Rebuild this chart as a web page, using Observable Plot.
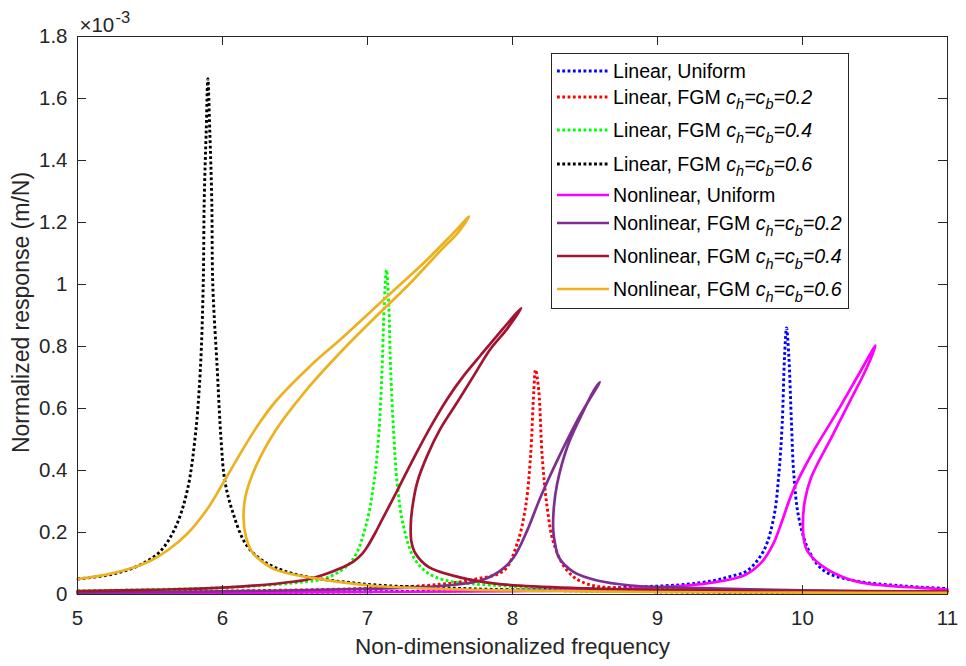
<!DOCTYPE html>
<html>
<head>
<meta charset="utf-8">
<script src="https://cdn.jsdelivr.net/npm/d3@7"></script>
<script src="https://cdn.jsdelivr.net/npm/@observablehq/plot@0.6"></script>
<style>
  html, body { margin: 0; padding: 0; background: #fff; overflow: hidden; }
  #wrap { position: relative; width: 966px; height: 666px; font-family: "Liberation Sans", Arial, Helvetica, sans-serif; }
  #legend { position: absolute; left: 551px; top: 53px; width: 298px; height: 256px; box-sizing: border-box;
            border: 1px solid #262626; background: #fff; }
  .row { position: absolute; left: 0; height: 0; white-space: nowrap; }
  .row svg { position: absolute; left: 4px; top: -6px; }
  .row span { position: absolute; left: 61px; top: -12px; line-height: 24px; font-size: 19.6px; color: #000; }
  .row sub { font-size: 14.5px; vertical-align: baseline; position: relative; top: 0.4em; }
</style>
</head>
<body>
<div id="wrap"></div>
<script>
// ---------- axis ticks ----------
const xTicks = [5, 6, 7, 8, 9, 10, 11];
const xTickLabels = ["5", "6", "7", "8", "9", "10", "11"];
const yTicks = [0, 0.2, 0.4, 0.6, 0.8, 1.0, 1.2, 1.4, 1.6, 1.8];
const yTickLabels = ["0", "0.2", "0.4", "0.6", "0.8", "1", "1.2", "1.4", "1.6", "1.8"];

// ---------- series (x: non-dimensional frequency, y: response ×10^-3 m/N) ----------
// Linear, Uniform
const linUniX = [5, 6, 7, 7.5, 8, 8.5, 8.9, 9.2, 9.388, 9.5, 9.619, 9.733, 9.802, 9.837, 9.86, 9.876, 9.89, 9.906, 9.924, 9.94, 9.974, 10.043, 10.147, 10.354, 10.653, 11];
const linUniY = [0.004, 0.006, 0.009, 0.011, 0.014, 0.019, 0.025, 0.033, 0.045, 0.058, 0.077, 0.142, 0.249, 0.389, 0.551, 0.766, 0.86, 0.766, 0.551, 0.389, 0.249, 0.142, 0.077, 0.045, 0.029, 0.019];
// Linear, FGM c=0.2
const linC2X = [5, 6, 7, 7.5, 7.75, 7.94, 8.032, 8.09, 8.124, 8.147, 8.159, 8.181, 8.205, 8.239, 8.285, 8.377, 8.515, 9, 10, 11];
const linC2Y = [0.007, 0.011, 0.02, 0.033, 0.05, 0.077, 0.164, 0.282, 0.443, 0.658, 0.725, 0.658, 0.443, 0.282, 0.164, 0.077, 0.034, 0.018, 0.011, 0.008];
// Linear, FGM c=0.4
const linC4X = [5, 6, 6.5, 6.731, 6.894, 6.986, 7.043, 7.078, 7.101, 7.115, 7.131, 7.147, 7.159, 7.181, 7.205, 7.25, 7.331, 7.469, 8, 9, 10, 11];
const linC4Y = [0.012, 0.022, 0.038, 0.056, 0.11, 0.217, 0.357, 0.518, 0.733, 0.93, 1.047, 0.93, 0.733, 0.518, 0.357, 0.217, 0.11, 0.056, 0.026, 0.015, 0.011, 0.008];
// Linear, FGM c=0.6
const linC6X = [5, 5.2, 5.331, 5.45, 5.572, 5.676, 5.757, 5.814, 5.848, 5.867, 5.874, 5.888, 5.899, 5.912, 5.926, 5.933, 5.963, 5.99, 6.015, 6.067, 6.159, 6.274, 6.481, 7, 7.5, 8, 9, 10, 11];
const linC6Y = [0.05, 0.062, 0.077, 0.1, 0.14, 0.217, 0.335, 0.519, 0.733, 1.0, 1.271, 1.5, 1.664, 1.5, 1.271, 1.0, 0.733, 0.5, 0.37, 0.271, 0.164, 0.11, 0.068, 0.033, 0.022, 0.015, 0.009, 0.006, 0.004];
// Nonlinear, Uniform
const nlUniX = [5, 6, 7, 8, 8.6, 8.9, 9.2, 9.4, 9.6, 9.72, 9.8, 9.85, 9.935, 10.065, 10.245, 10.39, 10.503, 10.445, 10.33, 10.2, 10.06, 10.015, 10.003, 10.012, 10.034, 10.147, 10.308, 10.45, 10.6, 10.79, 11];
const nlUniY = [0.003, 0.005, 0.008, 0.011, 0.015, 0.021, 0.029, 0.04, 0.062, 0.105, 0.165, 0.225, 0.335, 0.454, 0.594, 0.712, 0.803, 0.733, 0.626, 0.507, 0.378, 0.3, 0.228, 0.17, 0.14, 0.088, 0.051, 0.035, 0.028, 0.022, 0.016];
// Nonlinear, FGM c=0.2
const nlC2X = [5, 6, 7, 7.5, 7.779, 7.917, 8.009, 8.101, 8.193, 8.308, 8.446, 8.602, 8.561, 8.469, 8.377, 8.308, 8.285, 8.281, 8.295, 8.319, 8.423, 8.584, 8.814, 9.041, 9.5, 10, 11];
const nlC2Y = [0.006, 0.01, 0.018, 0.027, 0.045, 0.077, 0.12, 0.206, 0.314, 0.432, 0.561, 0.685, 0.658, 0.572, 0.475, 0.357, 0.28, 0.206, 0.16, 0.12, 0.072, 0.045, 0.029, 0.024, 0.018, 0.013, 0.009];
// Nonlinear, FGM c=0.4
const nlC4X = [5, 5.5, 6, 6.5, 6.6, 6.83, 6.9, 6.963, 7.0, 7.055, 7.09, 7.205, 7.319, 7.434, 7.55, 7.664, 7.779, 7.894, 8.06, 7.963, 7.848, 7.733, 7.619, 7.503, 7.412, 7.343, 7.308, 7.298, 7.303, 7.331, 7.423, 7.63, 7.883, 8.5, 9, 10, 11];
const nlC4Y = [0.011, 0.015, 0.022, 0.042, 0.05, 0.088, 0.105, 0.131, 0.155, 0.2, 0.232, 0.335, 0.44, 0.54, 0.631, 0.706, 0.771, 0.835, 0.924, 0.857, 0.792, 0.706, 0.62, 0.535, 0.448, 0.362, 0.276, 0.22, 0.17, 0.132, 0.088, 0.056, 0.035, 0.02, 0.015, 0.011, 0.009];
// Nonlinear, FGM c=0.6
const nlC6X = [5, 5.2, 5.386, 5.5, 5.62, 5.757, 5.894, 5.986, 6.136, 6.25, 6.37, 6.6, 6.83, 7.12, 7.4, 7.58, 7.70, 7.62, 7.515, 7.285, 7.055, 6.825, 6.595, 6.366, 6.228, 6.16, 6.145, 6.16, 6.2, 6.262, 6.366, 6.6, 7.02, 7.5, 7.986, 9, 10, 11];
const nlC6Y = [0.05, 0.064, 0.087, 0.108, 0.142, 0.196, 0.275, 0.345, 0.465, 0.55, 0.625, 0.735, 0.83, 0.955, 1.075, 1.16, 1.219, 1.165, 1.115, 1.0, 0.895, 0.787, 0.669, 0.529, 0.411, 0.32, 0.249, 0.19, 0.14, 0.11, 0.08, 0.055, 0.029, 0.018, 0.013, 0.008, 0.006, 0.005];

// ---------- legend / series descriptors ----------
const seriesNames = ["Linear, Uniform", "Linear, FGM", "Linear, FGM", "Linear, FGM",
                     "Nonlinear, Uniform", "Nonlinear, FGM", "Nonlinear, FGM", "Nonlinear, FGM"];
const seriesC = [null, "0.2", "0.4", "0.6", null, "0.2", "0.4", "0.6"];
const seriesColors = ["#0000ff", "#ff0000", "#00ff00", "#000000", "#ff00ff", "#7e2f8e", "#a2142f", "#edb120"];
const seriesDotted = [true, true, true, true, false, false, false, false];
const seriesXs = [linUniX, linC2X, linC4X, linC6X, nlUniX, nlC2X, nlC4X, nlC6X];
const seriesYs = [linUniY, linC2Y, linC4Y, linC6Y, nlUniY, nlC2Y, nlC4Y, nlC6Y];

// ---------- layout ----------
const W = 966, H = 666;
const mL = 77, mR = 19, mT = 36, mB = 72;
const xDomain = [5, 11], yDomain = [0, 1.8];
const tickPx = 9;
const tx = tickPx * (xDomain[1] - xDomain[0]) / (W - mL - mR);
const ty = tickPx * (yDomain[1] - yDomain[0]) / (H - mT - mB);
const axisColor = "#262626";
const fontFamily = "'Liberation Sans', Arial, Helvetica, sans-serif";
const dotDash = "2.8 2.5";

const lineMarks = seriesXs.map((xs, i) => {
  const pts = xs.map((x, j) => ({x, y: seriesYs[i][j]}));
  return Plot.line(pts, {
    x: "x", y: "y",
    stroke: seriesColors[i],
    strokeWidth: seriesDotted[i] ? 2.9 : 2.7,
    strokeDasharray: seriesDotted[i] ? dotDash : null,
    strokeLinecap: seriesDotted[i] ? "butt" : "round",
    strokeLinejoin: "round",
    curve: "catmull-rom"
  });
});

const chart = Plot.plot({
  width: W, height: H,
  marginLeft: mL, marginRight: mR, marginTop: mT, marginBottom: mB,
  style: {fontFamily, fontSize: "20px", color: axisColor, background: "#fff"},
  x: {domain: xDomain, label: null},
  y: {domain: yDomain, label: null},
  marks: [
    ...lineMarks,
    Plot.ruleX(xTicks, {y1: yDomain[0], y2: yDomain[0] + ty, stroke: axisColor, strokeWidth: 1}),
    Plot.ruleX(xTicks, {y1: yDomain[1] - ty, y2: yDomain[1], stroke: axisColor, strokeWidth: 1}),
    Plot.ruleY(yTicks, {x1: xDomain[0], x2: xDomain[0] + tx, stroke: axisColor, strokeWidth: 1}),
    Plot.ruleY(yTicks, {x1: xDomain[1] - tx, x2: xDomain[1], stroke: axisColor, strokeWidth: 1}),
    Plot.frame({stroke: axisColor, strokeWidth: 1}),
    Plot.axisX(xTicks, {anchor: "bottom", tickSize: 0, tickPadding: 16, fontSize: 20.5, fill: axisColor,
      tickFormat: d => xTickLabels[xTicks.indexOf(d)], label: null}),
    Plot.axisY(yTicks, {anchor: "left", tickSize: 0, tickPadding: 10, fontSize: 20.5, fill: axisColor,
      tickFormat: d => yTickLabels[yTicks.indexOf(d)], label: null}),
    Plot.text(["Non-dimensionalized frequency"], {frameAnchor: "bottom", dy: 59, fontSize: 22.5, fill: axisColor, textAnchor: "middle"}),
    Plot.text(["Normalized response (m/N)"], {frameAnchor: "left", dx: -56, dy: -3, rotate: -90, fontSize: 23, fill: axisColor, textAnchor: "middle"}),
    Plot.text(["\u00d710"], {frameAnchor: "top-left", dx: 2, dy: -4.5, lineAnchor: "bottom", textAnchor: "start", fontSize: 20.5, fill: axisColor}),
    Plot.text(["-3"], {frameAnchor: "top-left", dx: 38, dy: -13.5, lineAnchor: "bottom", textAnchor: "start", fontSize: 16.5, fill: axisColor})
  ]
});

const wrap = document.getElementById("wrap");
wrap.appendChild(chart);

// ---------- legend ----------
const legendRowCenters = [16.5, 42.5, 76, 109.5, 140.5, 169, 202, 235];
const legend = document.createElement("div");
legend.id = "legend";
seriesNames.forEach((name, i) => {
  const row = document.createElement("div");
  row.className = "row";
  row.style.top = legendRowCenters[i] + "px";
  const dash = seriesDotted[i] ? `stroke-dasharray="${dotDash}"` : "";
  row.innerHTML =
    `<svg width="54" height="12" viewBox="0 0 54 12"><line x1="1" y1="6" x2="53" y2="6" stroke="${seriesColors[i]}" stroke-width="${seriesDotted[i] ? 2.9 : 2.7}" ${dash}/></svg>` +
    `<span>${name}${seriesC[i] ? ` <i>c<sub>h</sub>=c<sub>b</sub>=${seriesC[i]}</i>` : ""}</span>`;
  legend.appendChild(row);
});
wrap.appendChild(legend);
</script>
</body>
</html>
